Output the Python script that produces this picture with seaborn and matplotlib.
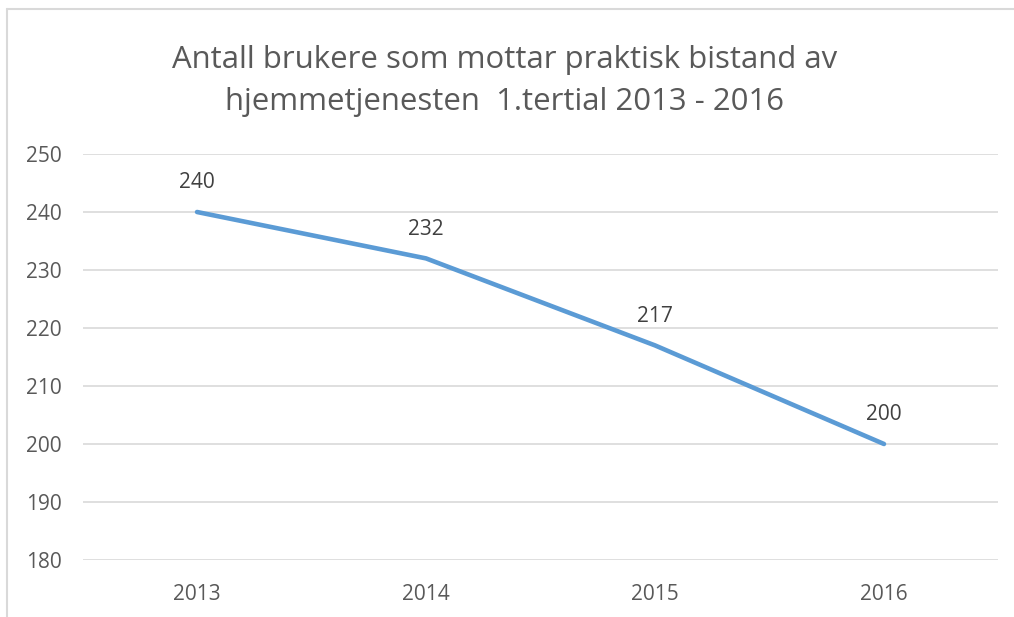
import matplotlib
matplotlib.use("Agg")
import matplotlib.pyplot as plt
import seaborn as sns
import pandas as pd

years = ["2013", "2014", "2015", "2016"]
users = [240, 232, 217, 200]
y_ticks = [180, 190, 200, 210, 220, 230, 240, 250]
title = "Antall brukere som mottar praktisk bistand av\nhjemmetjenesten  1.tertial 2013 - 2016"

sns.set_style("white")
plt.rcParams['font.family'] = ['Open Sans', 'DejaVu Sans']

df = pd.DataFrame({"year": years, "users": users})

fig = plt.figure(figsize=(10.14, 6.17), dpi=100)
ax = fig.add_axes([0.0814, 0.0924, 0.9033, 0.658])

sns.lineplot(data=df, x="year", y="users", ax=ax, color="#5B9BD5", linewidth=3.3,
             sort=False)

for i, v in enumerate(users):
    ax.annotate(str(v), (i, v), xytext=(0, 21), textcoords="offset points",
                ha="center", va="center", fontsize=15, color="#404040")

ax.set_xlim(-0.5, 3.5)
ax.set_ylim(180, 250)
ax.set_yticks(y_ticks)
ax.yaxis.grid(True, color="#d9d9d9", linewidth=1.2)
ax.set_xlabel("")
ax.set_ylabel("")
for s in ax.spines.values():
    s.set_visible(False)
ax.tick_params(axis="both", length=0, labelsize=15, labelcolor="#595959")
ax.tick_params(axis="y", pad=15)
ax.tick_params(axis="x", pad=17)

fig.text(0.498, 0.868, title, ha="center", va="center", fontsize=22.4,
         color="#595959", linespacing=1.52)

# outer chart border (top and left visible in the reference)
fig.add_artist(plt.Line2D([0.0069, 1.0], [0.986, 0.986], color="#d9d9d9", linewidth=1.5))
fig.add_artist(plt.Line2D([0.0069, 0.0069], [0.0, 0.986], color="#d9d9d9", linewidth=1.5))

fig.savefig("out.png", dpi=100)
